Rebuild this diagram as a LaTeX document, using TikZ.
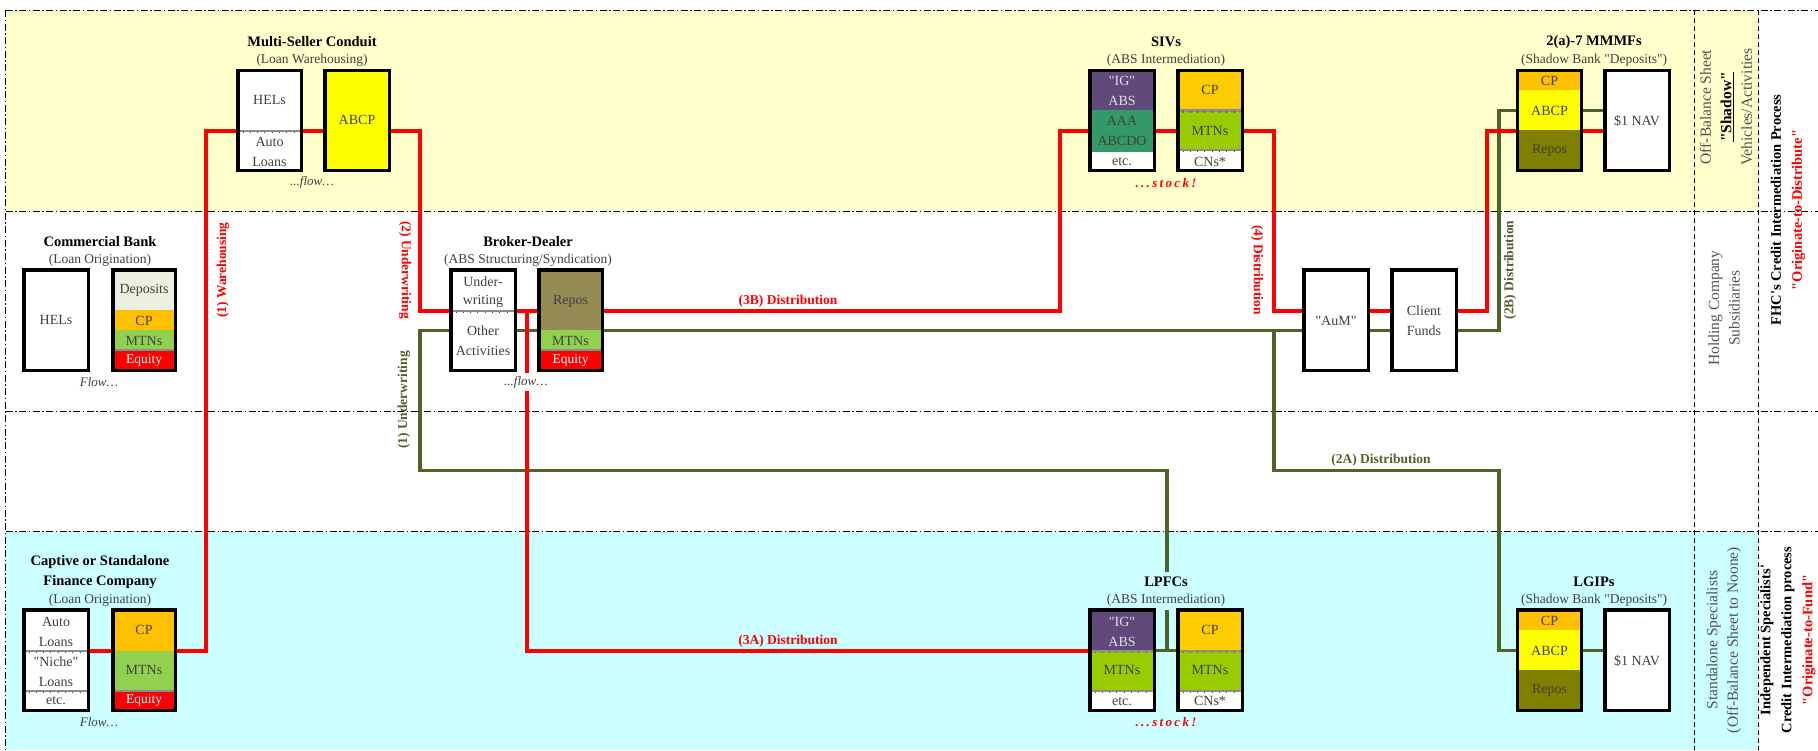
\documentclass[tikz,border=0pt]{standalone}
\usepackage{fontspec}
\setmainfont{Liberation Serif}[Ligatures=TeXOff]
\usetikzlibrary{calc}
\definecolor{bgYellow}{HTML}{FFFFCC}
\definecolor{bgCyan}{HTML}{CCFFFF}
\definecolor{depC}{HTML}{EBF1DE}
\definecolor{cpC}{HTML}{FFC000}
\definecolor{cpS}{HTML}{FFCC00}
\definecolor{mtnC}{HTML}{92D050}
\definecolor{mtnS}{HTML}{99CC00}
\definecolor{eqC}{HTML}{FF0000}
\definecolor{abcpC}{HTML}{FFFF00}
\definecolor{repoBD}{HTML}{948A54}
\definecolor{repoMM}{HTML}{808000}
\definecolor{purpC}{HTML}{604A7B}
\definecolor{tealC}{HTML}{339966}
\definecolor{lineRed}{HTML}{FF0000}
\definecolor{lineGreen}{HTML}{4F6228}
\definecolor{txtGray}{HTML}{404040}
\definecolor{divGray}{HTML}{8C8C8C}
\newcommand{\dividerline}[3]{%
  \draw[divline] (#1,#3) -- (#2,#3);
  \draw[tickline] (#1+3,#3+1.6) -- (#2-1,#3+1.6);}
\begin{document}
\begin{tikzpicture}[x=1pt,y=-1pt,
  boxborder/.style={draw=black,line width=3.2pt,inner sep=0pt,minimum width=61pt,minimum height=97pt},
  redline/.style={draw=lineRed,line width=3.8pt,line join=miter},
  greenline/.style={draw=lineGreen,line width=3.2pt,line join=miter},
  bandline/.style={line width=0.9pt,dash pattern=on 7pt off 2.5pt on 1.5pt off 2.5pt},
  colline/.style={line width=0.9pt,dash pattern=on 5pt off 3pt},
  divline/.style={draw=divGray,line width=2.2pt},
  tickline/.style={draw=black!70,line width=1.6pt,dash pattern=on 0.8pt off 6.5pt},
  ttl/.style={font=\fontsize{14.5}{20}\selectfont\bfseries,inner sep=1pt,align=center},
  subttl/.style={font=\fontsize{13.5}{16}\selectfont,text=txtGray,inner sep=1pt},
  bx/.style={font=\fontsize{14}{20}\selectfont,text=txtGray,inner sep=0pt},
  bxw/.style={font=\fontsize{13.5}{20}\selectfont,text=white,inner sep=0pt},
  bxl/.style={font=\fontsize{14}{20}\selectfont,text=black!12,inner sep=0pt},
  flowtxt/.style={font=\fontsize{13}{16}\selectfont\itshape,text=txtGray,inner sep=1pt},
  stocktxt/.style={font=\fontsize{13}{16}\selectfont\bfseries\itshape\addfontfeatures{LetterSpace=18},text=lineRed,inner sep=1pt},
  redlbl/.style={font=\fontsize{13.5}{16}\selectfont\bfseries,text=lineRed,inner sep=1pt},
  greenlbl/.style={font=\fontsize{13.5}{16}\selectfont\bfseries,text=lineGreen,inner sep=1pt},
  sidetxt/.style={font=\fontsize{15.5}{20.5}\selectfont,text=txtGray!90,align=center,rotate=90,inner sep=0pt},
  sidebold/.style={font=\fontsize{14.5}{21}\selectfont\bfseries,align=center,rotate=90,inner sep=0pt}
]
\useasboundingbox (0,0) rectangle (1818,750);
% ---------------- bands
\fill[bgYellow] (5.5,10) rectangle (1758,211);
\fill[bgCyan] (5.5,531) rectangle (1758,750);
\foreach \yy in {10,211,411,531} \draw[bandline] (5.5,\yy) -- (1818,\yy);
\draw[bandline] (5.5,10) -- (5.5,750);
\draw[colline] (1694,10) -- (1694,750);
\draw[colline] (1758,10) -- (1758,750);
% ---------------- box border nodes (positions)
\node[boxborder] (cbHEL) at (56,320) {};
\node[boxborder,minimum width=59pt] (cbStk) at (144,320) {};
\node[boxborder,minimum width=60pt] (msHEL) at (269.5,120.75) {};
\node[boxborder] (msABCP) at (357,120.75) {};
\node[boxborder] (bdUW) at (483,320) {};
\node[boxborder,minimum width=60pt] (bdRep) at (570.5,320) {};
\node[boxborder] (sivA) at (1122,120.75) {};
\node[boxborder] (sivL) at (1210,120.75) {};
\node[boxborder] (aum) at (1336,320) {};
\node[boxborder] (cf) at (1424,320) {};
\node[boxborder] (mmA) at (1549.5,120.75) {};
\node[boxborder] (mmN) at (1637,120.75) {};
\node[boxborder] (cfAuto) at (56,660) {};
\node[boxborder,minimum width=59pt] (cfStk) at (144,660) {};
\node[boxborder] (lpA) at (1122,660) {};
\node[boxborder] (lpL) at (1210,660) {};
\node[boxborder] (lgA) at (1549.5,660) {};
\node[boxborder] (lgN) at (1637,660) {};
% ---------------- helper coordinates
\coordinate (yT) at (0,130.7);
\coordinate (yTg) at (0,110.7);
\coordinate (yMr) at (0,310.7);
\coordinate (yMg) at (0,330.7);
\coordinate (yL) at (0,470.7);
\coordinate (yB) at (0,650.7);
\coordinate (xW) at (206,0);
\coordinate (xU) at (420,0);
\coordinate (x3A) at (527,0);
\coordinate (x3B) at (1060,0);
\coordinate (x4) at (1274,0);
\coordinate (xCFr) at (1487,0);
\coordinate (xCFg) at (1499,0);
\coordinate (xLP) at (1167,0);
% ---------------- green connectors
\draw[greenline] (bdUW.west |- yMg) -- (xU |- yMg) -- (xU |- yL) -- (xLP |- yL) -- (xLP |- yB);
\draw[greenline] (lpA.east |- yB) -- (lpL.west |- yB);
\draw[greenline] (bdUW.east |- yMg) -- (bdRep.west |- yMg);
\draw[greenline] (bdRep.east |- yMg) -- (aum.west |- yMg);
\draw[greenline] (aum.east |- yMg) -- (cf.west |- yMg);
\draw[greenline] (cf.east |- yMg) -- (xCFg |- yMg) -- (xCFg |- yTg) -- (mmA.west |- yTg);
\draw[greenline] (mmA.east |- yTg) -- (mmN.west |- yTg);
\draw[greenline] (x4 |- yMg) -- (x4 |- yL) -- (xCFg |- yL) -- (xCFg |- yB) -- (lgA.west |- yB);
\draw[greenline] (lgA.east |- yB) -- (lgN.west |- yB);
% ---------------- red connectors
\draw[redline] (cfAuto.east |- yB) -- (cfStk.west |- yB);
\draw[redline] (cfStk.east |- yB) -- (xW |- yB) -- (xW |- yT) -- (msHEL.west |- yT);
\draw[redline] (msHEL.east |- yT) -- (msABCP.west |- yT);
\draw[redline] (msABCP.east |- yT) -- (xU |- yT) -- (xU |- yMr) -- (bdUW.west |- yMr);
\draw[redline] (bdUW.east |- yMr) -- (bdRep.west |- yMr);
\draw[redline] (x3A |- yMr) -- (x3A |- yB) -- (lpA.west |- yB);
\draw[redline] (bdRep.east |- yMr) -- (x3B |- yMr) -- (x3B |- yT) -- (sivA.west |- yT);
\draw[redline] (sivA.east |- yT) -- (sivL.west |- yT);
\draw[redline] (sivL.east |- yT) -- (x4 |- yT) -- (x4 |- yMr) -- (aum.west |- yMr);
\draw[redline] (aum.east |- yMr) -- (cf.west |- yMr);
\draw[redline] (cf.east |- yMr) -- (xCFr |- yMr) -- (xCFr |- yT) -- (mmA.west |- yT);
\draw[redline] (mmA.east |- yT) -- (mmN.west |- yT);
% ---------------- Commercial Bank
\node[ttl] (cbT) at (100,241.7) {Commercial Bank};
\node[subttl] (cbS) at (100,260.7) {(Loan Origination)};
\fill[white] (25.5,271.5) rectangle (86.5,368.5);
\fill[depC] (114.5,271.5) rectangle (173.5,310);
\fill[cpC] (114.5,310) rectangle (173.5,330);
\fill[mtnC] (114.5,330) rectangle (173.5,350);
\fill[eqC] (114.5,350) rectangle (173.5,368.5);
\dividerline{114.5}{173.5}{350}
\node[bx] (cbt1) at (56,320) {HELs};
\node[bx] (cbt2) at (144,290) {Deposits};
\node[bx] (cbt3) at (144,320.5) {CP};
\node[bx] (cbt4) at (144,340.5) {MTNs};
\node[bxw] (cbt5) at (144,360) {Equity};
\node[flowtxt] (cbF) at (99,381.7) {Flow\ldots};
% ---------------- Multi-Seller Conduit
\node[ttl] (msT) at (312,41.7) {Multi-Seller Conduit};
\node[subttl] (msS) at (312,60.7) {(Loan Warehousing)};
\fill[white] (239.5,72) rectangle (299.5,169.5);
\fill[abcpC] (326.5,72) rectangle (387.5,169.5);
\dividerline{239.5}{299.5}{130.7}
\node[bx] (mst1) at (269.5,100) {HELs};
\node[bx] (mst2) at (269.5,141.7) {Auto};
\node[bx] (mst3) at (269.5,161.7) {Loans};
\node[bx] (mst4) at (357,120) {ABCP};
\node[flowtxt] (msF) at (312,182.7) {...flow\ldots};
% ---------------- Broker-Dealer
\node[ttl] (bdT) at (528,241.7) {Broker-Dealer};
\node[subttl] (bdS) at (528,260.7) {(ABS Structuring/Syndication)};
\fill[white] (452.5,271.5) rectangle (513.5,368.5);
\dividerline{452.5}{513.5}{310.7}
\fill[repoBD] (540.5,271.5) rectangle (600.5,330);
\fill[mtnC] (540.5,330) rectangle (600.5,350);
\fill[eqC] (540.5,350) rectangle (600.5,368.5);
\dividerline{540.5}{600.5}{350}
\node[bx] (bdt1) at (483,281.7) {Under-};
\node[bx] (bdt2) at (483,301.7) {writing};
\node[bx] (bdt3) at (483,330.7) {Other};
\node[bx] (bdt4) at (483,350.7) {Activities};
\node[bx] (bdt5) at (570.5,301) {Repos};
\node[bx] (bdt6) at (570.5,340.5) {MTNs};
\node[bxw] (bdt7) at (570.5,360) {Equity};
\node[flowtxt,fill=white,inner ysep=3pt] (bdF) at (526,382) {...flow\ldots};
% ---------------- SIVs
\node[ttl] (sivT) at (1166,41.7) {SIVs};
\node[subttl] (sivS) at (1166,60.7) {(ABS Intermediation)};
\fill[purpC] (1091.5,72) rectangle (1152.5,110);
\fill[tealC] (1091.5,110) rectangle (1152.5,151.7);
\fill[white] (1091.5,151.7) rectangle (1152.5,169.5);
\fill[cpS] (1179.5,72) rectangle (1240.5,110.5);
\fill[mtnS] (1179.5,110.5) rectangle (1240.5,150);
\fill[white] (1179.5,150) rectangle (1240.5,169.5);
\dividerline{1179.5}{1240.5}{110.5}
\dividerline{1179.5}{1240.5}{150}
\node[bxl] (sivt1) at (1122,81) {"IG"};
\node[bxl] (sivt2) at (1122,101) {ABS};
\node[bx] (sivt3) at (1122,121) {AAA};
\node[bx] (sivt4) at (1122,141) {ABCDO};
\node[bx] (sivt5) at (1122,161.5) {etc.};
\node[bx] (sivt6) at (1210,90) {CP};
\node[bx] (sivt7) at (1210,130.7) {MTNs};
\node[bx] (sivt8) at (1210,161.5) {CNs*};
\node[stocktxt] (sivF) at (1166,182.7) {...stock!};
% ---------------- AuM / Client Funds
\fill[white] (1305.5,271.5) rectangle (1366.5,368.5);
\fill[white] (1393.5,271.5) rectangle (1454.5,368.5);
\node[bx] (aumt) at (1336,320.7) {"AuM"};
\node[bx] (cft1) at (1424,310.7) {Client};
\node[bx] (cft2) at (1424,330.7) {Funds};
% ---------------- MMMFs
\node[ttl] (mmT) at (1594,41.7) {2(a)-7 MMMFs};
\node[subttl] (mmS) at (1594,60.7) {(Shadow Bank "Deposits")};
\fill[cpC] (1519,72) rectangle (1580,90);
\fill[abcpC] (1519,90) rectangle (1580,130);
\fill[repoMM] (1519,130) rectangle (1580,169.5);
\fill[white] (1606.5,72) rectangle (1667.5,169.5);
\node[bx] (mmt1) at (1549.5,81) {CP};
\node[bx] (mmt2) at (1549.5,110.7) {ABCP};
\node[bx] (mmt3) at (1549.5,150.7) {Repos};
\node[bx] (mmt4) at (1637,120.7) {\$1 NAV};
% ---------------- Captive Finance Company
\node[ttl] (cfT) at (100,571.7) {Captive or Standalone\\Finance Company};
\node[subttl] (cfS) at (100,600.7) {(Loan Origination)};
\fill[white] (25.5,611.5) rectangle (86.5,708.5);
\dividerline{25.5}{86.5}{650.7}
\dividerline{25.5}{86.5}{690.7}
\fill[cpC] (114.5,611.5) rectangle (173.5,650.7);
\fill[mtnC] (114.5,650.7) rectangle (173.5,690.7);
\fill[eqC] (114.5,690.7) rectangle (173.5,708.5);
\dividerline{114.5}{173.5}{690.7}
\node[bx] (cft3) at (56,621.7) {Auto};
\node[bx] (cft4) at (56,641.7) {Loans};
\node[bx] (cft5) at (56,661.7) {"Niche"};
\node[bx] (cft6) at (56,681.7) {Loans};
\node[bx] (cft7) at (56,701) {etc.};
\node[bx] (cft8) at (144,630) {CP};
\node[bx] (cft9) at (144,670) {MTNs};
\node[bxw] (cft10) at (144,700.5) {Equity};
\node[flowtxt] (cfF) at (99,721.7) {Flow\ldots};
% ---------------- LPFCs
\fill[bgCyan] (1128,571.5) rectangle (1204,610);
\node[ttl] (lpT) at (1166,581.7) {LPFCs};
\node[subttl] (lpS) at (1166,600.7) {(ABS Intermediation)};
\fill[purpC] (1091.5,611.5) rectangle (1152.5,650.7);
\fill[mtnS] (1091.5,650.7) rectangle (1152.5,690.7);
\fill[white] (1091.5,690.7) rectangle (1152.5,708.5);
\dividerline{1091.5}{1152.5}{650.7}
\dividerline{1091.5}{1152.5}{690.7}
\fill[cpS] (1179.5,611.5) rectangle (1240.5,650.7);
\fill[mtnS] (1179.5,650.7) rectangle (1240.5,690.7);
\fill[white] (1179.5,690.7) rectangle (1240.5,708.5);
\dividerline{1179.5}{1240.5}{650.7}
\dividerline{1179.5}{1240.5}{690.7}
\node[bxl] (lpt1) at (1122,621.7) {"IG"};
\node[bxl] (lpt2) at (1122,641.7) {ABS};
\node[bx] (lpt3) at (1122,670) {MTNs};
\node[bx] (lpt4) at (1122,701.2) {etc.};
\node[bx] (lpt5) at (1210,630) {CP};
\node[bx] (lpt6) at (1210,670) {MTNs};
\node[bx] (lpt7) at (1210,701.2) {CNs*};
\node[stocktxt] (lpF) at (1166,722.3) {...stock!};
% ---------------- LGIPs
\node[ttl] (lgT) at (1594,581.7) {LGIPs};
\node[subttl] (lgS) at (1594,600.7) {(Shadow Bank "Deposits")};
\fill[cpC] (1519,611.5) rectangle (1580,630);
\fill[abcpC] (1519,630) rectangle (1580,670);
\fill[repoMM] (1519,670) rectangle (1580,708.5);
\fill[white] (1606.5,611.5) rectangle (1667.5,708.5);
\node[bx] (lgt1) at (1549.5,620.7) {CP};
\node[bx] (lgt2) at (1549.5,650.7) {ABCP};
\node[bx] (lgt3) at (1549.5,690.7) {Repos};
\node[bx] (lgt4) at (1637,660.7) {\$1 NAV};
% ---------------- redraw box borders on top
\foreach \n in {cbHEL,cbStk,msHEL,msABCP,bdUW,bdRep,sivA,sivL,aum,cf,mmA,mmN,cfAuto,cfStk,lpA,lpL,lgA,lgN}
  \draw[black,line width=3.2pt] (\n.north west) rectangle (\n.south east);
% ---------------- connector labels
\node[redlbl,rotate=90] (l1) at (223,270) {(1) Warehousing};
\node[redlbl,rotate=-90] (l2) at (405,270) {(2) Underwriting};
\node[greenlbl,rotate=90] (l3) at (404,400) {(1) Underwriting};
\node[redlbl] (l4) at (788,301) {(3B) Distribution};
\node[redlbl] (l5) at (788,641) {(3A) Distribution};
\node[redlbl,rotate=-90] (l6) at (1257,270) {(4) Distribution};
\node[greenlbl,rotate=90] (l7) at (1510,270) {(2B) Distribution};
\node[greenlbl] (l8) at (1381,460.7) {(2A) Distribution};
% ---------------- side texts
\node[sidetxt] (s1) at (1726,107) {Off-Balance Sheet\\{\color{black}\bfseries\underline{"Shadow"}}\\Vehicles/Activities};
\node[sidetxt] (s2) at (1724,308) {Holding Company\\Subsidiaries};
\node[sidetxt] (s3) at (1724,640) {Standalone Specialists\\(Off-Balance Sheet to Noone)};
\node[sidebold] (s4) at (1788,210) {FHC's Credit Intermediation Process\\{\color{lineRed}"Originate-to-Distribute"}};
\node[sidebold] (s5) at (1788,640) {Independent Specialists'\\Credit Intermediation process\\{\color{lineRed}"Originate-to-Fund"}};
\end{tikzpicture}
\end{document}
